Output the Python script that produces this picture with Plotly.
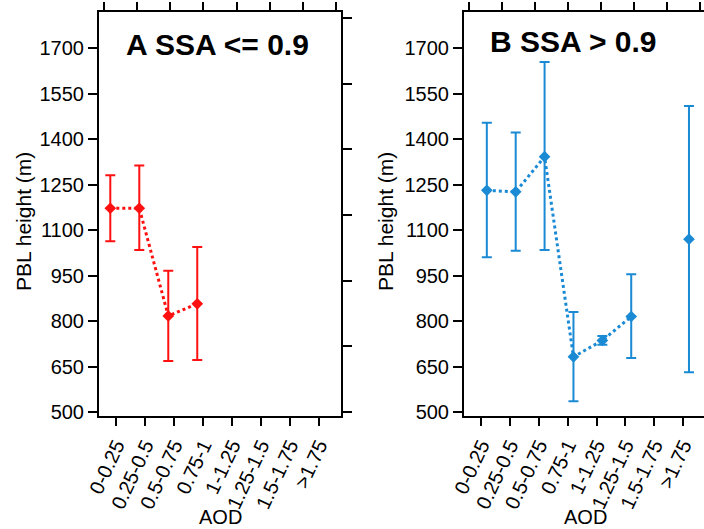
import plotly.graph_objects as go

W, H = 704, 529

categories = ["0-0.25", "0.25-0.5", "0.5-0.75", "0.75-1", "1-1.25", "1.25-1.5", "1.5-1.75", ">1.75"]

a_mean = [1172, 1172, 817, 857, None, None, None, None]
a_upper = [1281, 1313, 966, 1044, None, None, None, None]
a_lower = [1063, 1034, 668, 672, None, None, None, None]

b_mean = [1231, 1226, 1342, 682, 736, 815, None, 1070]
b_upper = [1454, 1422, 1654, 830, 751, 954, None, 1509]
b_lower = [1010, 1032, 1034, 536, 722, 678, None, 631]

y_ticks = [500, 650, 800, 950, 1100, 1250, 1400, 1550, 1700]

RED = "#ff1010"
BLUE = "#1a8ad4"
FONT = "Liberation Sans, Arial, sans-serif"


def px_x(p):
    return p / W


def px_y(p):
    return 1 - p / H


def err(mean, hi, lo):
    plus = [None if m is None else h - m for m, h in zip(mean, hi)]
    minus = [None if m is None else m - l for m, l in zip(mean, lo)]
    return plus, minus


fig = go.Figure()

idx = list(range(len(categories)))

ap, am = err(a_mean, a_upper, a_lower)
fig.add_trace(go.Scatter(
    x=[i - 0.2 for i in idx], y=a_mean, mode="lines+markers",
    line=dict(color=RED, width=3, dash="dot"),
    marker=dict(symbol="diamond", size=9, color=RED),
    error_y=dict(type="data", symmetric=False, array=ap, arrayminus=am,
                 color=RED, thickness=2, width=5),
    connectgaps=False, xaxis="x", yaxis="y", showlegend=False))

bp, bm = err(b_mean, b_upper, b_lower)
fig.add_trace(go.Scatter(
    x=[i + 0.2 for i in idx], y=b_mean, mode="lines+markers",
    line=dict(color=BLUE, width=3, dash="dot"),
    marker=dict(symbol="diamond", size=9, color=BLUE),
    error_y=dict(type="data", symmetric=False, array=bp, arrayminus=bm,
                 color=BLUE, thickness=2, width=5),
    connectgaps=False, xaxis="x2", yaxis="y2", showlegend=False))

# empty traces so the mirrored tick axes are drawn
fig.add_trace(go.Scatter(x=[], y=[], xaxis="x3", yaxis="y3", showlegend=False))
fig.add_trace(go.Scatter(x=[], y=[], xaxis="x4", yaxis="y4", showlegend=False))

ydom = [px_y(416), px_y(12)]
dom_a = [px_x(99), px_x(341)]
dom_b = [px_x(464), 1.0]

axis_common = dict(showline=True, linecolor="black", linewidth=2, ticks="outside",
                   tickwidth=2, tickcolor="black", showgrid=False, zeroline=False,
                   tickfont=dict(family=FONT, size=20, color="black"))

fig.update_layout(
    width=W, height=H, margin=dict(l=0, r=0, t=0, b=0),
    paper_bgcolor="white", plot_bgcolor="white",
    font=dict(family=FONT, color="black"),
    xaxis=dict(domain=dom_a, anchor="y", range=[-0.59, 7.76], tickvals=idx,
               ticktext=categories, tickangle=-65, ticklen=8, automargin=False,
               **axis_common),
    yaxis=dict(domain=ydom, anchor="x", range=[487, 1819], tickvals=y_ticks,
               ticklen=9, automargin=False, **axis_common),
    xaxis2=dict(domain=dom_b, anchor="y2", range=[-0.59, 7.72], tickvals=idx,
                ticktext=categories, tickangle=-65, ticklen=8, automargin=False,
                **axis_common),
    yaxis2=dict(domain=ydom, anchor="x2", range=[487, 1819], tickvals=y_ticks,
                ticklen=9, automargin=False, **axis_common),
    xaxis3=dict(overlaying="x", side="top", anchor="y3", range=[-0.15, 7.15],
                tickvals=list(range(8)), showticklabels=False, ticklen=8,
                automargin=False, **axis_common),
    yaxis3=dict(overlaying="y", side="right", anchor="x3", range=[-0.061, 6.09],
                tickvals=list(range(7)), showticklabels=False, ticklen=9,
                automargin=False, **axis_common),
    xaxis4=dict(overlaying="x2", side="top", anchor="y4", range=[-0.15, 7.12],
                tickvals=list(range(8)), showticklabels=False, ticklen=8,
                automargin=False, **axis_common),
    yaxis4=dict(overlaying="y2", side="right", anchor="x4", range=[0, 1],
                visible=False),
)


def label(text, x, y, size, angle=0):
    fig.add_annotation(text=text, x=px_x(x), y=px_y(y), xref="paper", yref="paper",
                       xanchor="center", yanchor="middle", textangle=angle,
                       showarrow=False, font=dict(family=FONT, size=size, color="black"))


label("PBL height (m)", 23, 222, 21, -90)
label("PBL height (m)", 385, 222, 21, -90)
label("AOD", 220, 517, 20)
label("AOD", 585, 517, 20)
label("<b>A SSA <= 0.9</b>", 218, 44, 30)
label("<b>B SSA > 0.9</b>", 573, 42, 30)

fig.write_html("out.html")
